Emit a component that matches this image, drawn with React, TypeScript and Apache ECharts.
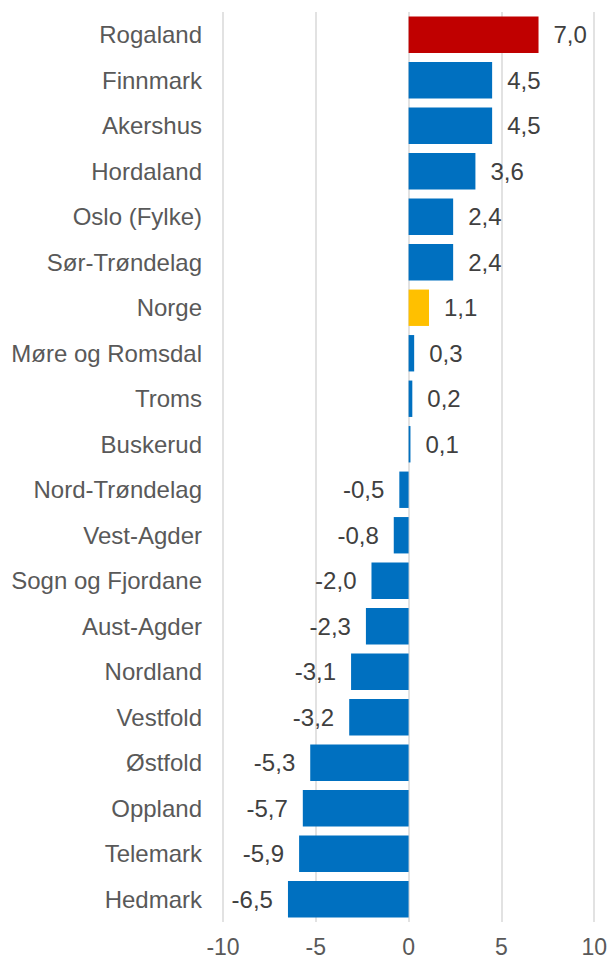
import React, { useEffect, useRef } from "react";
import * as echarts from "echarts";

const categories = [
  "Rogaland", "Finnmark", "Akershus", "Hordaland", "Oslo (Fylke)", "Sør-Trøndelag",
  "Norge", "Møre og Romsdal", "Troms", "Buskerud", "Nord-Trøndelag", "Vest-Agder",
  "Sogn og Fjordane", "Aust-Agder", "Nordland", "Vestfold", "Østfold", "Oppland",
  "Telemark", "Hedmark",
];
const values = [7.0, 4.5, 4.5, 3.6, 2.4, 2.4, 1.1, 0.3, 0.2, 0.1, -0.5, -0.8, -2.0, -2.3, -3.1, -3.2, -5.3, -5.7, -5.9, -6.5];
const highlight: Record<string, string> = { Rogaland: "#C00000", Norge: "#FFC000" };
const baseColor = "#0070C0";

export default function App() {
  const ref = useRef<HTMLDivElement>(null);
  useEffect(() => {
    if (!ref.current) return;
    const chart = echarts.init(ref.current, undefined, { renderer: "svg" });
    const font = "'Liberation Sans', Arial, sans-serif";
    chart.setOption({
      animation: false,
      grid: { left: 223, right: 14, top: 12, bottom: 38, containLabel: false },
      xAxis: {
        type: "value",
        min: -10,
        max: 10,
        interval: 5,
        axisLine: { show: false },
        axisTick: { show: false },
        splitLine: { show: true, lineStyle: { color: "#d9d9d9", width: 1.5 } },
        axisLabel: { color: "#595959", fontSize: 23, fontFamily: font, margin: 13 },
      },
      yAxis: {
        type: "category",
        data: categories,
        inverse: true,
        axisLine: { show: false },
        axisTick: { show: false },
        axisLabel: { color: "#595959", fontSize: 24, fontFamily: font, margin: 21 },
      },
      series: [
        {
          type: "bar",
          barCategoryGap: "20%",
          data: values.map((v, i) => ({
            value: v,
            itemStyle: { color: highlight[categories[i]] || baseColor },
            label: { position: v >= 0 ? "right" : "left" },
          })),
          label: {
            show: true,
            distance: 15,
            color: "#404040",
            fontSize: 24,
            fontFamily: font,
            formatter: (p: any) => p.value.toFixed(1).replace(".", ","),
          },
        },
      ],
    });
    return () => chart.dispose();
  }, []);
  return <div ref={ref} style={{ width: 610, height: 960, position: "absolute", left: 0, top: 0 }} />;
}
